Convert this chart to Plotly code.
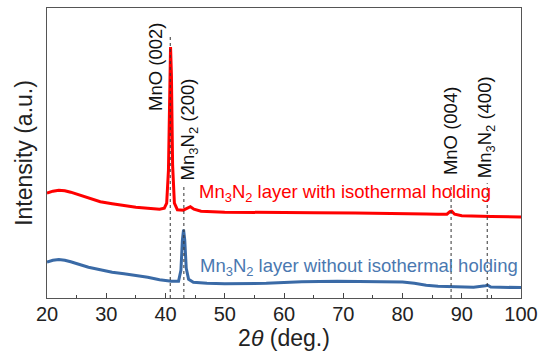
import plotly.graph_objects as go

# ---- data (intensity in arbitrary units) ----
red_x = [20, 21, 22, 23, 24, 25, 27, 29, 31, 33, 35, 37, 39, 39.8, 40.2, 40.5, 40.7, 40.85,
         41.0, 41.2, 41.5, 42, 43, 43.7, 44.2, 44.8, 46, 50, 57, 65, 72, 80, 84, 86, 87.5,
         88.0, 88.3, 88.8, 90, 95, 100]
red_y = [104.7, 106.7, 107.7, 107.2, 105.7, 103.7, 99.7, 96.2, 94.2, 92.2, 90.7, 89.7, 88.7,
         89.7, 94.7, 127.7, 217.7, 250.7, 222.7, 132.7, 94.7, 88.2, 87.7, 89.7, 91.2, 88.7,
         86.7, 85.7, 85.2, 85.2, 84.9, 84.7, 84.0, 83.7, 83.7, 86.2, 86.7, 83.7, 82.2, 81.5, 81.0]

blue_x = [20, 21, 22, 23, 24, 25, 27, 29, 31, 33, 35, 37, 39, 41, 42.2, 42.6, 42.85, 43.05,
          43.25, 43.5, 43.9, 44.7, 47, 50, 57, 63, 69, 75, 80, 82, 84, 86, 88.5, 92, 94,
          94.4, 94.9, 97, 100]
blue_y = [36.0, 37.7, 38.4, 37.7, 36.2, 34.2, 30.7, 28.2, 25.7, 24.2, 22.7, 20.7, 18.2, 16.7,
          16.7, 27.7, 57.7, 68.2, 57.7, 29.7, 18.7, 15.7, 14.7, 14.2, 14.7, 16.2, 16.7, 16.5,
          16.0, 14.7, 12.7, 11.7, 11.0, 10.7, 12.2, 12.7, 10.9, 10.5, 10.4]

peak_pos = [40.8, 43.1, 88.2, 94.3]
peak_line_top = [262.7, 112.7, 112.7, 114.7]
peak_labels = ["MnO (002)", "Mn<sub>3</sub>N<sub>2</sub> (200)", "MnO (004)",
               "Mn<sub>3</sub>N<sub>2</sub> (400)"]
label_x = [38.2, 44.0, 88.0, 94.1]
label_y = [184.7, 115.7, 120.7, 117.7]

series_names = ["Mn<sub>3</sub>N<sub>2</sub> layer with isothermal holding",
                "Mn<sub>3</sub>N<sub>2</sub> layer without isothermal holding"]
series_label_pos = [(45.3, 104.7), (45.5, 30.7)]

RED = "#ff0000"
BLUE = "#3a6aa6"
FONT = "Liberation Sans, Arial, sans-serif"

fig = go.Figure()
fig.add_trace(go.Scatter(x=red_x, y=red_y, mode="lines", line=dict(color=RED, width=3),
                         showlegend=False, hoverinfo="skip"))
fig.add_trace(go.Scatter(x=blue_x, y=blue_y, mode="lines", line=dict(color=BLUE, width=3),
                         showlegend=False, hoverinfo="skip"))

for px, top in zip(peak_pos, peak_line_top):
    fig.add_shape(type="line", x0=px, x1=px, y0=0, y1=top, xref="x", yref="y",
                  line=dict(color="#333333", width=1, dash="dot"), layer="above")

for txt, lx, ly in zip(peak_labels, label_x, label_y):
    fig.add_annotation(x=lx, y=ly, text=txt, textangle=-90, showarrow=False,
                       xanchor="center", yanchor="bottom",
                       font=dict(family=FONT, size=18.5, color="#111111"))

for txt, (lx, ly), col in zip(series_names, series_label_pos, [RED, "#4a78b0"]):
    fig.add_annotation(x=lx, y=ly, text=txt, showarrow=False, xanchor="left",
                       yanchor="middle", font=dict(family=FONT, size=18.5, color=col))

fig.update_layout(
    width=539, height=356,
    margin=dict(l=47, r=18, t=8, b=58, autoexpand=False),
    paper_bgcolor="white", plot_bgcolor="white",
    font=dict(family=FONT, color="#222222"),
    xaxis=dict(range=[20, 100], tickvals=[20, 30, 40, 50, 60, 70, 80, 90, 100],
               ticks="inside", ticklen=5, tickcolor="#444444",
               minor=dict(dtick=5, ticks="inside", ticklen=3, tickcolor="#444444"),
               showgrid=False, zeroline=False, showline=True, linecolor="#555555",
               linewidth=1, mirror=True, tickfont=dict(size=20, family=FONT),
               ticklabelstandoff=-2, automargin=False,
               title=dict(text="2<i>θ</i> (deg.)", font=dict(size=23, family=FONT),
                          standoff=4)),
    yaxis=dict(range=[0, 289.7], showticklabels=False, ticks="", showgrid=False,
               zeroline=False, showline=True, linecolor="#555555", linewidth=1,
               mirror=True, automargin=False,
               title=dict(text="Intensity (a.u.)", font=dict(size=23, family=FONT),
                          standoff=6)),
)

fig.write_html("out.html", config={"displayModeBar": False},
               post_script="document.body.style.margin='0px';document.body.style.overflow='hidden';")
